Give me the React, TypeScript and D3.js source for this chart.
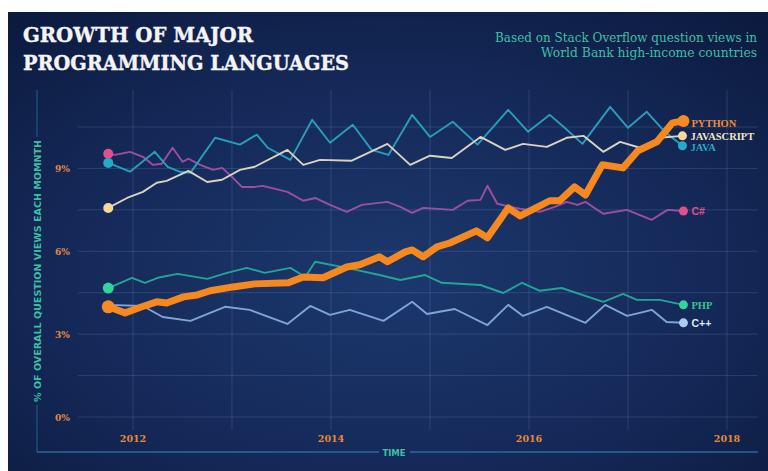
import React from "react";
import * as d3 from "d3";

type Pt = [number, number];

const yearGrid = [2012, 2013, 2014, 2015, 2016, 2017, 2018];
const yearLabels = [2012, 2014, 2016, 2018];
const valueGrid = [0, 1.5, 3, 4.5, 6, 7.5, 9, 10.5];
const valueLabels = [0, 3, 6, 9];

const pythonData: Pt[] = [
  [2011.75, 3.99], [2011.92, 3.77], [2012.09, 3.99], [2012.24, 4.17], [2012.34, 4.13],
  [2012.51, 4.35], [2012.65, 4.42], [2012.78, 4.57], [2013.01, 4.71], [2013.23, 4.82],
  [2013.57, 4.86], [2013.72, 5.07], [2013.92, 5.04], [2014.16, 5.43], [2014.29, 5.51],
  [2014.49, 5.8], [2014.57, 5.62], [2014.75, 5.98], [2014.82, 6.05], [2014.93, 5.8],
  [2015.07, 6.16], [2015.2, 6.3], [2015.47, 6.74], [2015.58, 6.49], [2015.79, 7.57],
  [2015.91, 7.28], [2016.21, 7.83], [2016.31, 7.83], [2016.46, 8.33], [2016.57, 8.04],
  [2016.74, 9.13], [2016.95, 9.02], [2017.1, 9.64], [2017.29, 9.96], [2017.45, 10.65],
  [2017.56, 10.72],
];

const javascriptData: Pt[] = [
  [2011.75, 7.57], [2011.94, 7.93], [2012.1, 8.15], [2012.24, 8.48], [2012.34, 8.55],
  [2012.56, 8.91], [2012.75, 8.51], [2012.9, 8.59], [2013.08, 8.95], [2013.23, 9.06],
  [2013.56, 9.67], [2013.72, 9.13], [2013.89, 9.31], [2014.21, 9.28], [2014.57, 9.89],
  [2014.8, 9.13], [2015.0, 9.46], [2015.22, 9.38], [2015.51, 10.14], [2015.76, 9.67],
  [2015.94, 9.89], [2016.18, 9.78], [2016.38, 10.11], [2016.55, 10.18], [2016.75, 9.6],
  [2016.92, 9.96], [2017.12, 9.75], [2017.32, 10.11], [2017.55, 10.18],
];

const javaData: Pt[] = [
  [2011.75, 9.2], [2011.97, 8.88], [2012.22, 9.6], [2012.35, 9.06], [2012.47, 8.88],
  [2012.58, 8.84], [2012.83, 10.11], [2013.08, 9.86], [2013.25, 10.22], [2013.36, 9.75],
  [2013.59, 9.31], [2013.81, 10.76], [2013.99, 9.93], [2014.22, 10.58], [2014.41, 9.67],
  [2014.58, 9.49], [2014.82, 10.94], [2015.0, 10.14], [2015.23, 10.69], [2015.48, 9.86],
  [2015.79, 11.12], [2015.99, 10.33], [2016.21, 10.94], [2016.36, 10.47], [2016.54, 9.89],
  [2016.82, 11.23], [2017.0, 10.47], [2017.19, 11.05], [2017.37, 10.33], [2017.55, 9.82],
];

const csharpData: Pt[] = [
  [2011.75, 9.53], [2011.82, 9.49], [2011.97, 9.6], [2012.1, 9.42], [2012.2, 9.13],
  [2012.29, 9.17], [2012.4, 9.75], [2012.5, 9.24], [2012.56, 9.35], [2012.68, 9.13],
  [2012.81, 8.95], [2012.9, 9.02], [2013.01, 8.66], [2013.1, 8.33], [2013.23, 8.33],
  [2013.31, 8.37], [2013.56, 8.15], [2013.72, 7.83], [2013.84, 7.93], [2013.99, 7.68],
  [2014.16, 7.43], [2014.31, 7.68], [2014.57, 7.79], [2014.7, 7.61], [2014.82, 7.39],
  [2014.93, 7.57], [2015.23, 7.5], [2015.38, 7.83], [2015.51, 7.86], [2015.58, 8.37],
  [2015.68, 7.72], [2015.81, 7.61], [2015.91, 7.54], [2016.11, 7.43], [2016.26, 7.61],
  [2016.38, 7.79], [2016.49, 7.68], [2016.57, 7.79], [2016.75, 7.36], [2016.99, 7.5],
  [2017.24, 7.14], [2017.4, 7.5], [2017.56, 7.46],
];

const phpData: Pt[] = [
  [2011.75, 4.67], [2011.99, 5.04], [2012.12, 4.86], [2012.25, 5.04], [2012.45, 5.18],
  [2012.75, 5.0], [2012.95, 5.22], [2013.15, 5.4], [2013.33, 5.22], [2013.59, 5.4],
  [2013.74, 5.07], [2013.84, 5.62], [2014.16, 5.4], [2014.49, 5.14], [2014.7, 4.96],
  [2014.95, 5.14], [2015.12, 4.86], [2015.51, 4.78], [2015.74, 4.49], [2015.93, 4.86],
  [2016.11, 4.57], [2016.33, 4.67], [2016.75, 4.17], [2016.95, 4.46], [2017.09, 4.24],
  [2017.32, 4.24], [2017.56, 4.06],
];

const cppData: Pt[] = [
  [2011.75, 4.06], [2012.1, 4.02], [2012.3, 3.62], [2012.58, 3.48], [2012.93, 3.99],
  [2013.18, 3.88], [2013.56, 3.37], [2013.79, 4.02], [2013.99, 3.7], [2014.19, 3.88],
  [2014.53, 3.48], [2014.82, 4.17], [2014.97, 3.73], [2015.25, 3.91], [2015.58, 3.33],
  [2015.79, 4.06], [2015.94, 3.66], [2016.18, 3.99], [2016.57, 3.41], [2016.77, 4.06],
  [2016.99, 3.66], [2017.15, 3.8], [2017.24, 3.88], [2017.39, 3.44], [2017.56, 3.41],
];

type Series = {
  name: string;
  data: Pt[];
  line: string;
  dot: string;
  label: string;
  width: number;
  startDot: boolean;
  r: number;
  dy: number;
  font: string;
};

const series: Series[] = [
  { name: "C++", data: cppData, line: "#7fa5d8", dot: "#a8cbef", label: "#dfe8f8", width: 1.9, startDot: false, r: 4.5, dy: 0, font: "Liberation Sans, Arial, sans-serif" },
  { name: "PHP", data: phpData, line: "#22a596", dot: "#33d39a", label: "#3cc48f", width: 1.9, startDot: true, r: 5.5, dy: 0, font: "Liberation Serif, serif" },
  { name: "C#", data: csharpData, line: "#9d4f9f", dot: "#e0508a", label: "#e0508a", width: 1.9, startDot: true, r: 5, dy: 0, font: "Liberation Sans, Arial, sans-serif" },
  { name: "JAVA", data: javaData, line: "#2a9db8", dot: "#27aac3", label: "#2aa8c2", width: 1.9, startDot: true, r: 5, dy: 1.5, font: "Liberation Serif, serif" },
  { name: "JAVASCRIPT", data: javascriptData, line: "#d9d3c2", dot: "#f8d898", label: "#f1e6c8", width: 1.9, startDot: true, r: 5, dy: 0, font: "Liberation Serif, serif" },
  { name: "PYTHON", data: pythonData, line: "#f5891f", dot: "#f78b22", label: "#f08a34", width: 7, startDot: true, r: 6.5, dy: 2, font: "Liberation Serif, serif" },
];

const W = 768;
const H = 471;

export default function App() {
  const x = d3.scaleLinear().domain([2012, 2018]).range([133, 727]);
  const y = d3.scaleLinear().domain([0, 10.5]).range([417, 127]);
  const line = d3
    .line<Pt>()
    .x((d) => x(d[0]))
    .y((d) => y(d[1]));

  const serif = "DejaVu Serif, serif";
  return (
    <div style={{ position: "fixed", left: 0, top: 0, width: W, height: H }}>
      <svg width={W} height={H} style={{ display: "block" }}>
        <defs>
          <radialGradient id="bg" cx="0.5" cy="0.58" r="0.75">
            <stop offset="0" stopColor="#1c386d" />
            <stop offset="0.6" stopColor="#142857" />
            <stop offset="1" stopColor="#0c1a3e" />
          </radialGradient>
        </defs>
        <rect x={0} y={0} width={W} height={H} fill="#ffffff" />
        <rect x={8} y={12} width={W - 8} height={H - 12} fill="url(#bg)" />

        {/* title */}
        <text x={23} y={42} fill="#f4f4f4" fontFamily={serif} fontWeight="bold" fontSize={20.5} textLength={230} lengthAdjust="spacingAndGlyphs" stroke="#f4f4f4" strokeWidth={0.4}>
          GROWTH OF MAJOR
        </text>
        <text x={23} y={70} fill="#f4f4f4" fontFamily={serif} fontWeight="bold" fontSize={20.5} textLength={326} lengthAdjust="spacingAndGlyphs" stroke="#f4f4f4" strokeWidth={0.4}>
          PROGRAMMING LANGUAGES
        </text>
        <text x={757} y={42} fill="#3fbfa4" fontFamily={serif} fontSize={12.5} textAnchor="end" textLength={262} lengthAdjust="spacingAndGlyphs">
          Based on Stack Overflow question views in
        </text>
        <text x={757} y={57} fill="#3fbfa4" fontFamily={serif} fontSize={12.5} textAnchor="end" textLength={216} lengthAdjust="spacingAndGlyphs">
          World Bank high-income countries
        </text>

        {/* grid */}
        {yearGrid.map((t) => (
          <line key={"vx" + t} x1={x(t)} x2={x(t)} y1={90} y2={430} stroke="#7f9cd0" strokeOpacity={0.22} strokeWidth={1} />
        ))}
        {valueGrid.map((v) => (
          <line key={"hy" + v} x1={78} x2={758} y1={y(v)} y2={y(v)} stroke="#7f9cd0" strokeOpacity={0.22} strokeWidth={1} />
        ))}

        {/* axis frame */}
        <line x1={37} x2={37} y1={90} y2={137} stroke="#2f7fc0" strokeOpacity={0.55} strokeWidth={1.2} />
        <line x1={37} x2={37} y1={405} y2={452} stroke="#2f7fc0" strokeOpacity={0.55} strokeWidth={1.2} />
        <line x1={37} x2={379} y1={452} y2={452} stroke="#2f7fc0" strokeOpacity={0.75} strokeWidth={1.5} />
        <line x1={410} x2={758} y1={452} y2={452} stroke="#2f7fc0" strokeOpacity={0.75} strokeWidth={1.5} />
        <text x={394} y={455.5} fill="#3cc0a8" fontFamily="DejaVu Sans, sans-serif" fontWeight="bold" fontSize={8.5} textAnchor="middle">
          TIME
        </text>
        <text
          transform="translate(40.5,271) rotate(-90)"
          fill="#3cbfa2"
          fontFamily="DejaVu Sans, sans-serif"
          fontWeight="bold"
          fontSize={9}
          textAnchor="middle"
          textLength={262}
          lengthAdjust="spacingAndGlyphs"
        >
          % OF OVERALL QUESTION VIEWS EACH MOMNTH
        </text>

        {/* tick labels */}
        {valueLabels.map((v) => (
          <text key={"yl" + v} x={55} y={y(v) + 3.5} fill="#e8893a" fontFamily={serif} fontWeight="bold" fontSize={9}>
            {v + "%"}
          </text>
        ))}
        {yearLabels.map((t) => (
          <text key={"xl" + t} x={x(t)} y={441.5} fill="#e8893a" fontFamily={serif} fontWeight="bold" fontSize={9.5} textAnchor="middle">
            {t}
          </text>
        ))}

        {/* series */}
        {series.map((s) => (
          <path
            key={s.name}
            d={line(s.data) || ""}
            fill="none"
            stroke={s.line}
            strokeWidth={s.width}
            strokeLinejoin="round"
            strokeLinecap="round"
          />
        ))}
        {series.map((s) => {
          const first = s.data[0];
          const last = s.data[s.data.length - 1];
          return (
            <g key={s.name + "dots"}>
              {s.startDot && <circle cx={x(first[0])} cy={y(first[1])} r={s.r} fill={s.dot} />}
              <circle cx={x(last[0])} cy={y(last[1])} r={s.name === "PYTHON" ? 6 : 4.5} fill={s.dot} />
              <text
                x={x(last[0]) + 8}
                y={y(last[1]) + 3.8 + s.dy}
                fill={s.label}
                fontFamily={s.font}
                fontWeight="bold"
                fontSize={10.5}
              >
                {s.name}
              </text>
            </g>
          );
        })}
      </svg>
    </div>
  );
}
